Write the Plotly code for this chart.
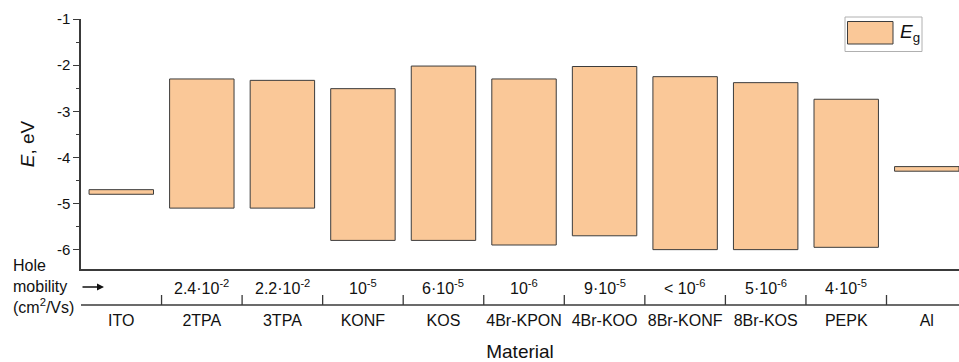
import plotly.graph_objects as go

# Energy levels (eV) of electrode materials and hole-transport materials
materials = ["ITO", "2TPA", "3TPA", "KONF", "KOS", "4Br-KPON", "4Br-KOO",
             "8Br-KONF", "8Br-KOS", "PEPK", "Al"]
level_top = [-4.70, -2.30, -2.33, -2.51, -2.02, -2.30, -2.03, -2.25, -2.38, -2.74, -4.20]
level_bottom = [-4.80, -5.10, -5.10, -5.80, -5.80, -5.90, -5.70, -6.00, -6.00, -5.95, -4.30]

# Hole mobility, cm^2/(V s)
mobility = ["", "2.4·10<sup>-2</sup>", "2.2·10<sup>-2</sup>", "10<sup>-5</sup>",
            "6·10<sup>-5</sup>", "10<sup>-6</sup>", "9·10<sup>-5</sup>",
            "< 10<sup>-6</sup>", "5·10<sup>-6</sup>", "4·10<sup>-5</sup>", ""]

FONT = "Arial, 'Liberation Sans', sans-serif"
FILL = "#FAC898"
EDGE = "#3c3c3c"
AXIS = "#3a3a3a"

W, H = 959, 362
ML, MR, MT, MB = 81, 0, 19, 93
plot_w = W - ML - MR
plot_h = H - MT - MB


def py(pix):
    """Pixel row (from the top of the page) -> paper y."""
    return (H - MB - pix) / plot_h


def px(pix):
    """Pixel column -> paper x."""
    return (pix - ML) / plot_w


gap = [t - b for t, b in zip(level_top, level_bottom)]

fig = go.Figure()
fig.add_trace(go.Bar(
    x=materials, y=gap, base=level_bottom, width=0.8,
    marker=dict(color=FILL, line=dict(color=EDGE, width=1)),
    showlegend=False, name="E_g",
))

shapes = []
annotations = []

# table below the axis: baseline and column separators
row_line_y = py(305)
shapes.append(dict(type="line", xref="paper", yref="paper", x0=0, x1=1,
                   y0=row_line_y, y1=row_line_y, line=dict(color=AXIS, width=1.5)))
for k in range(len(materials) - 1):
    shapes.append(dict(type="line", xref="x", yref="paper", x0=k + 0.5, x1=k + 0.5,
                       y0=row_line_y, y1=py(295), line=dict(color=AXIS, width=1.3)))

for m, txt in zip(materials, mobility):
    if txt:
        annotations.append(dict(x=m, xref="x", y=py(287), yref="paper", text=txt,
                                showarrow=False, xanchor="center", yanchor="middle",
                                font=dict(family=FONT, size=16, color="#111")))

# row header on the left
annotations.append(dict(x=px(11), xref="paper", y=py(286), yref="paper",
                        text="Hole<br>mobility<br>(cm<sup>2</sup>/Vs)",
                        showarrow=False, xanchor="left", yanchor="middle", align="left",
                        font=dict(family=FONT, size=16, color="#111")))
annotations.append(dict(x=px(104), y=py(287), xref="paper", yref="paper", text="",
                        showarrow=True, ax=-23, ay=0, axref="pixel", ayref="pixel",
                        arrowhead=2, arrowsize=1.0, arrowwidth=1.4, arrowcolor="#111"))

# legend box
shapes.append(dict(type="rect", xref="paper", yref="paper",
                   x0=px(845), x1=px(922), y0=py(51.5), y1=py(17),
                   line=dict(color="#b0b0b0", width=1), fillcolor="white"))
shapes.append(dict(type="rect", xref="paper", yref="paper",
                   x0=px(847.5), x1=px(893), y0=py(44), y1=py(21.5),
                   line=dict(color=EDGE, width=1), fillcolor=FILL))
annotations.append(dict(x=px(898), y=py(33), xref="paper", yref="paper",
                        text="<i>E</i><sub>g</sub>", showarrow=False,
                        xanchor="left", yanchor="middle",
                        font=dict(family=FONT, size=19, color="#111")))

fig.update_layout(
    width=W, height=H,
    margin=dict(l=ML, r=MR, t=MT, b=MB, pad=0),
    paper_bgcolor="white", plot_bgcolor="white",
    font=dict(family=FONT, color="#111"),
    shapes=shapes, annotations=annotations,
    bargap=0.2,
)

fig.update_xaxes(
    type="category", range=[-0.5, -0.5 + plot_w / 80.55],
    showline=True, linecolor=AXIS, linewidth=1.8, mirror=False,
    ticks="", showgrid=False, zeroline=False,
    tickfont=dict(family=FONT, size=16, color="#111"),
    ticklabelstandoff=36,
    title=dict(text="Material", font=dict(family=FONT, size=19, color="#111"), standoff=17),
)
fig.update_yaxes(
    range=[-6.42, -1], tickvals=[-6, -5, -4, -3, -2, -1],
    ticktext=["-6", "-5", "-4", "-3", "-2", "-1"],
    showline=True, linecolor=AXIS, linewidth=1.5,
    ticks="outside", ticklen=6, tickwidth=1.3, tickcolor=AXIS,
    minor=dict(dtick=0.5, tick0=-6, ticks="outside", ticklen=3, tickwidth=1.3, tickcolor=AXIS),
    showgrid=False, zeroline=False,
    tickfont=dict(family=FONT, size=15, color="#111"),
    title=dict(text="<i>E</i>, eV", font=dict(family=FONT, size=19, color="#111"), standoff=17),
)

fig.write_html("out.html")
